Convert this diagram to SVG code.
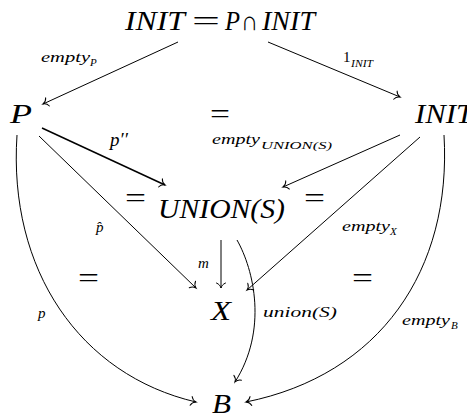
<svg xmlns="http://www.w3.org/2000/svg" width="467" height="418" viewBox="0 0 467 418">
<style>
text{font-family:'Liberation Serif',serif;fill:#000}
.m{font-style:italic}
.big{font-size:27px}
.lab{font-size:15px}
.sub{font-size:11px}
.eq{font-size:27px}
.e{fill:none;stroke:#000;stroke-width:1;marker-end:url(#ah)}
</style>
<defs>
<marker id="ah" markerUnits="userSpaceOnUse" markerWidth="14" markerHeight="14" viewBox="-8 -7 10 14" refX="0" refY="0" orient="auto">
<path d="M-5,-4.5 C-4,-1.8 -1.5,-0.4 0,0 C-1.5,0.4 -4,1.8 -5,4.5" fill="none" stroke="#000" stroke-width="1" stroke-linecap="round"/>
</marker>
</defs>
<rect width="467" height="418" fill="#fff"/>
<g id="connectors">
<line class="e" x1="178" y1="42" x2="43" y2="104"/>
<line class="e" x1="268" y1="42" x2="400" y2="97"/>
<line class="e" x1="42" y1="128" x2="165" y2="185" style="stroke-width:1.5"/>
<line class="e" x1="400" y1="135" x2="283" y2="187"/>
<line class="e" x1="39" y1="136" x2="196" y2="288"/>
<line class="e" x1="420" y1="137" x2="247" y2="290"/>
<line class="e" x1="221" y1="240" x2="221" y2="288"/>
<path class="e" d="M237,240 C254,270 268,330 235,382"/>
<path class="e" d="M17,135 C8,270 80,375 196,402"/>
<path class="e" d="M444,135 C452,270 380,375 246,402"/>
</g>
<g id="node-top">
<text class="m big" x="125" y="30" textLength="60" lengthAdjust="spacingAndGlyphs">INIT</text>
<text class="eq" x="192" y="30" textLength="28" lengthAdjust="spacingAndGlyphs">=</text>
<text class="m big" x="225" y="30" textLength="15" lengthAdjust="spacingAndGlyphs">P</text>
<text class="big" x="241" y="30" textLength="17" lengthAdjust="spacingAndGlyphs">∩</text>
<text class="m big" x="262" y="30" textLength="53" lengthAdjust="spacingAndGlyphs">INIT</text>
</g>
<g id="node-P"><text class="m big" x="10" y="123" textLength="22" lengthAdjust="spacingAndGlyphs">P</text></g>
<g id="node-INIT"><text class="m big" x="415" y="123" textLength="58" lengthAdjust="spacingAndGlyphs">INIT</text></g>
<g id="node-UNION"><text class="m big" x="158" y="218" textLength="127" lengthAdjust="spacingAndGlyphs">UNION(S)</text></g>
<g id="node-X"><text class="m big" x="211" y="320" textLength="20" lengthAdjust="spacingAndGlyphs">X</text></g>
<g id="node-B"><text class="m big" x="212" y="413" textLength="19" lengthAdjust="spacingAndGlyphs">B</text></g>
<g id="labels">
<text class="m lab" x="41" y="62" textLength="49" lengthAdjust="spacingAndGlyphs">empty</text>
<text class="m sub" x="90" y="66">P</text>
<text class="lab" x="343" y="62">1</text>
<text class="m sub" x="351" y="67" textLength="22" lengthAdjust="spacingAndGlyphs">INIT</text>
<text class="eq" x="210" y="123" textLength="20" lengthAdjust="spacingAndGlyphs">=</text>
<text class="m" x="110" y="146" style="font-size:19px">p′′</text>
<text class="m lab" x="212" y="144" textLength="48" lengthAdjust="spacingAndGlyphs">empty</text>
<text class="m sub" x="261" y="149" textLength="71" lengthAdjust="spacingAndGlyphs">UNION(S)</text>
<text class="eq" x="125" y="207" textLength="21" lengthAdjust="spacingAndGlyphs">=</text>
<text class="eq" x="304" y="207" textLength="21" lengthAdjust="spacingAndGlyphs">=</text>
<text class="m lab" x="96" y="232">p̂</text>
<text class="m lab" x="342" y="231" textLength="48" lengthAdjust="spacingAndGlyphs">empty</text>
<text class="m sub" x="390" y="235">X</text>
<text class="m lab" x="198" y="268">m</text>
<text class="eq" x="78" y="287" textLength="21" lengthAdjust="spacingAndGlyphs">=</text>
<text class="eq" x="352" y="287" textLength="21" lengthAdjust="spacingAndGlyphs">=</text>
<text class="m lab" x="38" y="318">p</text>
<text class="m lab" x="263" y="317" textLength="74" lengthAdjust="spacingAndGlyphs">union(S)</text>
<text class="m lab" x="402" y="325" textLength="48" lengthAdjust="spacingAndGlyphs">empty</text>
<text class="m sub" x="451" y="329">B</text>
</g>
</svg>
